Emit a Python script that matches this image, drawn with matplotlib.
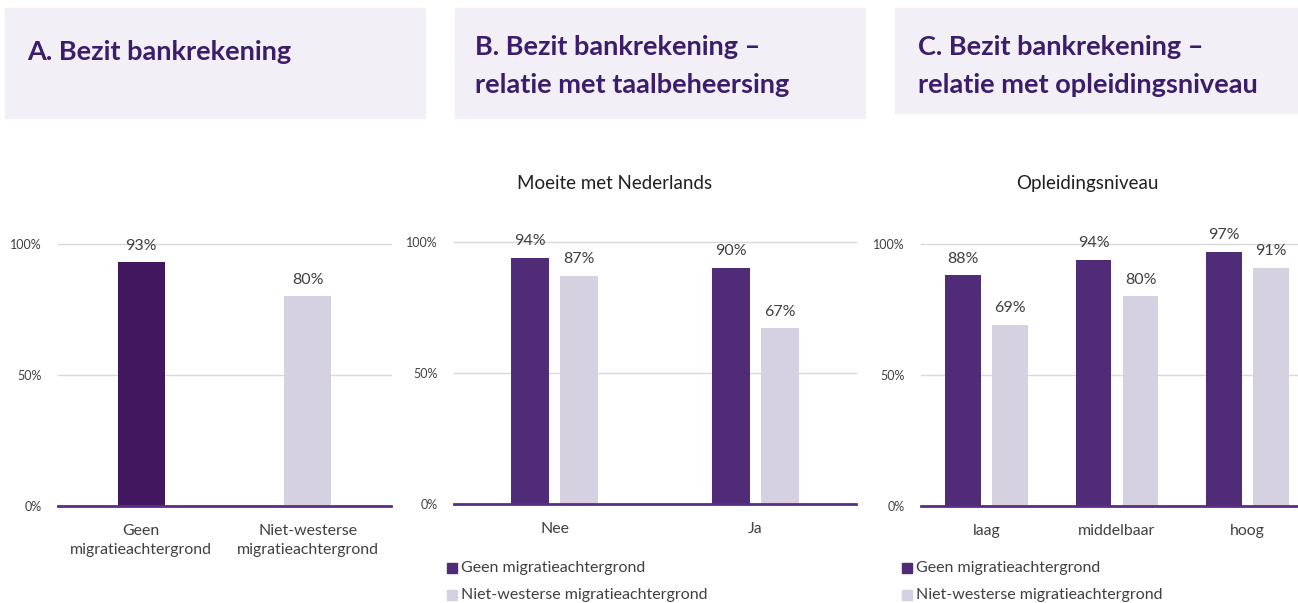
import matplotlib.pyplot as plt
from matplotlib.patches import Rectangle

plt.rcParams['font.family'] = ['Lato', 'DejaVu Sans']

# data
cat_a = ['Geen\nmigratieachtergrond', 'Niet-westerse\nmigratieachtergrond']
val_a = [93, 80]

cat_b = ['Nee', 'Ja']
geen_b = [94, 90]
niet_b = [87, 67]

cat_c = ['laag', 'middelbaar', 'hoog']
geen_c = [88, 94, 97]
niet_c = [69, 80, 91]

series = ['Geen migratieachtergrond', 'Niet-westerse migratieachtergrond']

DARK_A = '#42175f'
DARK = '#502b78'
LIGHT = '#d5d1e1'
AXIS = '#5b2d86'
TITLE = '#3b1d6c'
BOX = '#f2f0f6'

W, H = 1298, 603
fig = plt.figure(figsize=(W / 100, H / 100), dpi=100)


def px_axes(x0, x1, y_top, y_bot):
    return fig.add_axes([x0 / W, 1 - y_bot / H, (x1 - x0) / W, (y_bot - y_top) / H])


def title_box(x0, x1, y0, y1, lines, tx):
    fig.patches.append(Rectangle((x0 / W, 1 - y1 / H), (x1 - x0) / W, (y1 - y0) / H,
                                 transform=fig.transFigure, color=BOX, zorder=0))
    ys = [52] if len(lines) == 1 else [47, 85]
    for line, y in zip(lines, ys):
        fig.text(tx / W, 1 - y / H, line, fontsize=19.5, fontweight='bold', color=TITLE,
                 va='center', ha='left')


def style_axes(ax, ncat):
    ax.set_xlim(-0.5, ncat - 0.5)
    ax.set_ylim(0, 1)
    for s in ax.spines.values():
        s.set_visible(False)
    ax.axhline(0, color=AXIS, lw=2, zorder=3, clip_on=False)
    for g in [0.5, 1.0]:
        ax.axhline(g, color='#d9d9d9', lw=1, zorder=0, clip_on=False)
    ax.set_yticks([0, 0.5, 1.0])
    ax.set_yticklabels(['0%', '50%', '100%'])
    ax.tick_params(axis='y', length=0, labelsize=9, labelcolor='#404040', pad=12)
    ax.tick_params(axis='x', length=0, labelsize=11.4, labelcolor='#404040', pad=13)
    ax.patch.set_alpha(0)


def label_bars(ax, bars, vals):
    for b, v in zip(bars, vals):
        ax.annotate(f'{v}%', (b.get_x() + b.get_width() / 2, v / 100), xytext=(0, 7),
                    textcoords='offset points', ha='center', va='bottom', fontsize=11.5,
                    color='#404040', annotation_clip=False)


def legend(x0):
    for i, (name, col) in enumerate(zip(series, [DARK, LIGHT])):
        y = 568 + 27 * i
        fig.patches.append(Rectangle((x0 / W, 1 - (y + 5) / H), 10 / W, 10 / H,
                                     transform=fig.transFigure, color=col))
        fig.text((x0 + 14) / W, 1 - y / H, name, ha='left', va='center', fontsize=11.5,
                 color='#404040')


# Panel A
title_box(5, 425, 8, 118, ['A. Bezit bankrekening'], 27)
ax = px_axes(58, 391, 244, 506)
style_axes(ax, 2)
bars = ax.bar(range(2), [v / 100 for v in val_a], width=0.28, color=[DARK_A, LIGHT], zorder=2)
label_bars(ax, bars, val_a)
ax.set_xticks(range(2))
ax.set_xticklabels(cat_a, linespacing=1.45)

# Panel B
title_box(455, 865, 8, 118, ['B. Bezit bankrekening \u2013', 'relatie met taalbeheersing'], 475)
ax = px_axes(454, 856, 242, 504)
style_axes(ax, 2)
xs = list(range(2))
b1 = ax.bar([x - 0.12 for x in xs], [v / 100 for v in geen_b], width=0.19, color=DARK, zorder=2)
b2 = ax.bar([x + 0.12 for x in xs], [v / 100 for v in niet_b], width=0.19, color=LIGHT, zorder=2)
label_bars(ax, b1, geen_b)
label_bars(ax, b2, niet_b)
ax.set_xticks(xs)
ax.set_xticklabels(cat_b)
fig.text(615 / W, 1 - 183 / H, 'Moeite met Nederlands', ha='center', va='center',
         fontsize=13.5, color='#202020')
legend(447)

# Panel C
title_box(895, 1298, 8, 113, ['C. Bezit bankrekening \u2013', 'relatie met opleidingsniveau'], 918)
ax = px_axes(921, 1313, 244, 506)
style_axes(ax, 3)
xs = list(range(3))
b1 = ax.bar([x - 0.18 for x in xs], [v / 100 for v in geen_c], width=0.275, color=DARK, zorder=2)
b2 = ax.bar([x + 0.18 for x in xs], [v / 100 for v in niet_c], width=0.275, color=LIGHT, zorder=2)
label_bars(ax, b1, geen_c)
label_bars(ax, b2, niet_c)
ax.set_xticks(xs)
ax.set_xticklabels(cat_c)
fig.text(1087 / W, 1 - 183 / H, 'Opleidingsniveau', ha='center', va='center',
         fontsize=13.5, color='#202020')
legend(902)

fig.savefig('out.png', dpi=100)
